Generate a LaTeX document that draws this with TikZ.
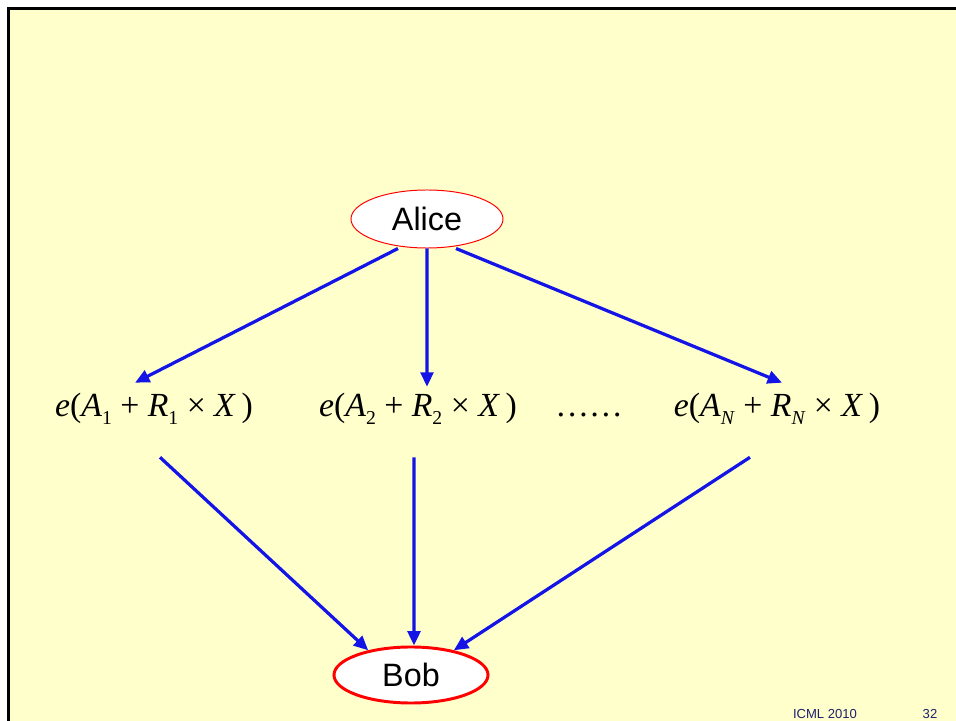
\documentclass[tikz,border=0pt]{standalone}
\usepackage{fontspec}
\setmainfont{Liberation Sans}
\newfontfamily\timesfont{Liberation Serif}
\usetikzlibrary{arrows.meta}
\usetikzlibrary{shapes.geometric}
\definecolor{slideyellow}{RGB}{255,255,204}
\definecolor{arrowblue}{RGB}{20,20,230}
\definecolor{footnavy}{RGB}{31,31,110}
\newcommand{\lowidx}[1]{\raisebox{-0.22em}{\fontsize{14}{14}\selectfont #1}}
\newcommand{\encterm}[1]{\textit{e}(\textit{A}\lowidx{#1}\ + \textit{R}\lowidx{#1}\ × \textit{X}\,)}
\tikzset{
	party/.style={ellipse, draw=red, fill=white, inner sep=0pt, font=\fontsize{23}{27}\selectfont},
	msg/.style={inner xsep=0pt, inner ysep=0.25cm, text height=0.6cm, text depth=0.2cm, anchor=base, font=\timesfont\fontsize{24}{28}\selectfont},
	flow/.style={draw=arrowblue, line width=2.3pt, -{Triangle[length=0.36cm, width=0.32cm]}},
	footer/.style={text=footnavy, font=\fontsize{9.3}{11}\selectfont, anchor=base}
}

\begin{document}
\begin{tikzpicture}[x=0.025cm, y=-0.025cm]
	\useasboundingbox (0,0) rectangle (956,721);
	\fill[slideyellow] (8.5,8.5) rectangle (956,721);
	\draw[line width=2.1pt] (8.5,721) -- (8.5,8.5) -- (956,8.5);
	\node[party, line width=0.7pt, minimum width=3.8cm, minimum height=1.45cm] (alice) at (427,219) {Alice};
	\node[party, line width=2.1pt, minimum width=3.85cm, minimum height=1.4cm] (bob) at (411,675) {Bob};
	\node[msg] (enc1) at (154,417) {\encterm{1}};
	\node[msg] (enc2) at (418,417) {\encterm{2}};
	\node[msg] (dots) at (589,417) {……};
	\node[msg] (encN) at (777,417) {\encterm{\textit{N}}};
	\node[footer] (venue) at (825,718) {ICML 2010};
	\node[footer] (page) at (930,718) {32};
	\draw[flow] ([xshift=-0.725cm]alice.south) -- ([xshift=-0.475cm]enc1.north);
	\draw[flow] (alice.south) -- ([xshift=0.225cm, yshift=-0.1cm]enc2.north);
	\draw[flow] ([xshift=0.725cm]alice.south) -- ([xshift=0.125cm]encN.north);
	\draw[flow] ([xshift=0.15cm, yshift=-0.55cm]enc1.south) -- (bob.150);
	\draw[flow] ([xshift=-0.1cm, yshift=-0.55cm]enc2.south) -- ([xshift=0.075cm]bob.north);
	\draw[flow] ([xshift=-0.675cm, yshift=-0.55cm]encN.south) -- (bob.30);
\end{tikzpicture}
\end{document}
